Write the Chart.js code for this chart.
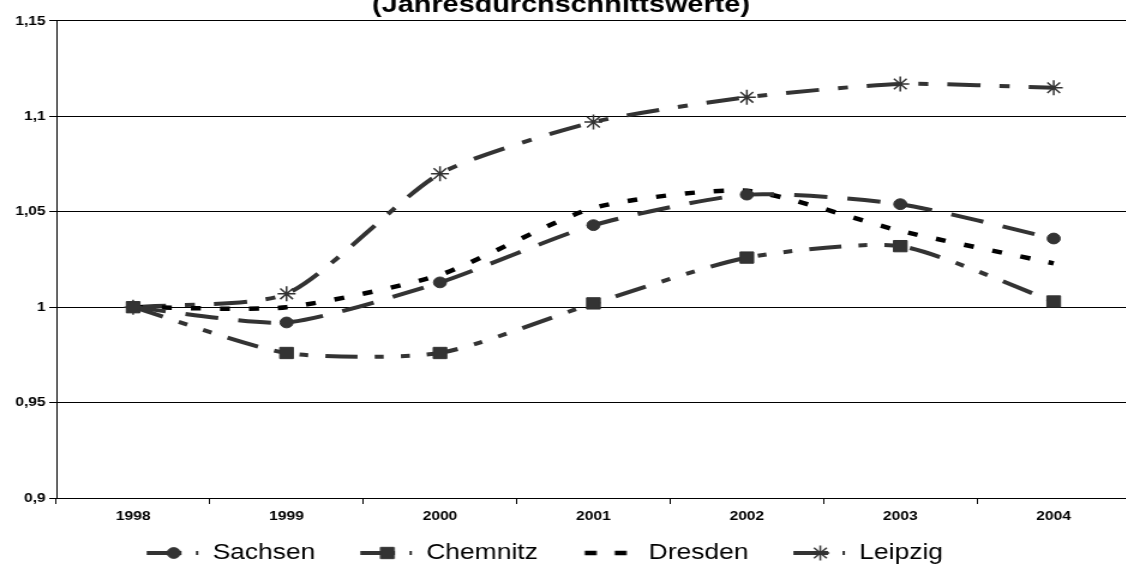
<!DOCTYPE html>
<html>
<head>
<meta charset="utf-8">
<script src="https://cdn.jsdelivr.net/npm/chart.js@4.4.1/dist/chart.umd.min.js"></script>
<style>
  html, body { margin: 0; padding: 0; background: #fff; overflow: hidden; }
  body { width: 1126px; height: 567px; position: relative; }
  /* the source picture is stretched horizontally, so the chart is drawn narrow and widened */
  #wrap { position: absolute; left: 0; top: -9px; width: 951px; height: 583px; transform: scaleX(1.2); transform-origin: 0 0; }
</style>
</head>
<body>
<div id="wrap"><canvas id="chart" width="951" height="583"></canvas></div>
<script>
// Data
const years = ['1998', '1999', '2000', '2001', '2002', '2003', '2004'];
const sachsen = [1.000, 0.992, 1.013, 1.043, 1.059, 1.054, 1.036];
const chemnitz = [1.000, 0.976, 0.976, 1.002, 1.026, 1.032, 1.003];
const dresden = [1.000, 1.000, 1.017, 1.052, 1.061, 1.040, 1.023];
const leipzig = [1.000, 1.007, 1.070, 1.097, 1.110, 1.117, 1.115];
const seriesNames = ['Sachsen', 'Chemnitz', 'Dresden', 'Leipzig'];
const yTicks = [0.9, 0.95, 1, 1.05, 1.1, 1.15];
const yTickLabels = ['0,9', '0,95', '1', '1,05', '1,1', '1,15'];
const titleText = '(Jahresdurchschnittswerte)';

const GREY = '#333333';
const FONT = '"Liberation Sans", Arial, sans-serif';
const TENSION = 0.22;

// legend symbol: transparent lead (gap between items), line sample, marker
const SYMBOL_GAP = 25;
const SYMBOL_W = 69;

function legendSymbol(style, dash, color, width, radius) {
  const c = document.createElement('canvas');
  c.width = SYMBOL_W;
  c.height = 24;
  const g = c.getContext('2d');
  g.strokeStyle = color;
  g.fillStyle = color;
  g.lineWidth = width;
  g.lineCap = 'butt';
  g.setLineDash(dash);
  g.beginPath();
  if (style) {
    g.moveTo(SYMBOL_GAP, 12);
    g.lineTo(SYMBOL_GAP + 43, 12);
  } else {
    g.moveTo(SYMBOL_GAP + 1.7, 12);
    g.lineTo(SYMBOL_GAP + 38, 12);
  }
  g.stroke();
  g.setLineDash([]);
  if (style) {
    g.lineWidth = style === 'star' ? 1.5 : 1;
    Chart.helpers.drawPoint(g, { pointStyle: style, radius: radius, rotation: 0, borderWidth: g.lineWidth }, SYMBOL_GAP + 22.5, 12);
  }
  return c;
}

const symbols = [
  legendSymbol('circle', [29, 12], GREY, 4, 5.4),
  legendSymbol('rect', [29, 12], GREY, 4, 8),
  legendSymbol(null, [10, 15], '#000000', 4.5, 0),
  legendSymbol('star', [29, 12], GREY, 4, 7.5)
];

// nudge title and legend to where they sit in the source
const shiftBlocks = {
  id: 'shiftBlocks',
  afterLayout(chart) {
    chart.titleBlock.left -= 8;
    chart.titleBlock.right -= 8;
    chart.legend.left -= 34;
    chart.legend.right -= 34;
  }
};

const ctx = document.getElementById('chart').getContext('2d');

new Chart(ctx, {
  type: 'line',
  data: {
    labels: years,
    datasets: [
      {
        label: seriesNames[0],
        data: sachsen,
        borderColor: GREY,
        backgroundColor: GREY,
        borderWidth: 4,
        borderDash: [27.5, 16.7],
        borderCapStyle: 'butt',
        tension: TENSION,
        pointStyle: 'circle',
        pointRadius: 5.4,
        pointBackgroundColor: GREY,
        pointBorderColor: GREY,
        pointBorderWidth: 1
      },
      {
        label: seriesNames[1],
        data: chemnitz,
        borderColor: GREY,
        backgroundColor: GREY,
        borderWidth: 4,
        borderDash: [26.7, 14.2, 7.5, 14.2, 7.5, 14.2],
        borderCapStyle: 'butt',
        tension: TENSION,
        pointStyle: 'rect',
        pointRadius: 8,
        pointBackgroundColor: GREY,
        pointBorderColor: GREY,
        pointBorderWidth: 1
      },
      {
        label: seriesNames[2],
        data: dresden,
        borderColor: '#000000',
        backgroundColor: '#000000',
        borderWidth: 4.5,
        borderDash: [8.3, 15.8],
        borderCapStyle: 'butt',
        tension: TENSION,
        pointRadius: 0
      },
      {
        label: seriesNames[3],
        data: leipzig,
        borderColor: GREY,
        backgroundColor: GREY,
        borderWidth: 4,
        borderDash: [27.5, 15.8, 8.3, 15.8],
        borderCapStyle: 'butt',
        tension: TENSION,
        pointStyle: 'star',
        pointRadius: 7.5,
        pointBackgroundColor: GREY,
        pointBorderColor: GREY,
        pointBorderWidth: 1.5
      }
    ]
  },
  options: {
    responsive: false,
    animation: false,
    events: [],
    layout: { padding: 0 },
    plugins: {
      title: {
        display: true,
        text: titleText,
        color: '#000',
        font: { family: FONT, size: 24, weight: 'bold' },
        padding: { top: 0, bottom: 1.2 }
      },
      legend: {
        position: 'bottom',
        labels: {
          usePointStyle: true,
          pointStyleWidth: SYMBOL_W,
          padding: 12.4,
          color: '#000',
          font: { family: FONT, size: 22 },
          generateLabels: (chart) => chart.data.datasets.map((ds, i) => ({
            text: ds.label,
            pointStyle: symbols[i],
            fillStyle: 'transparent',
            strokeStyle: 'transparent',
            lineWidth: 0,
            hidden: false,
            datasetIndex: i,
            fontColor: '#000'
          }))
        }
      },
      tooltip: { enabled: false }
    },
    scales: {
      x: {
        offset: true,
        grid: {
          offset: true,
          drawOnChartArea: false,
          drawTicks: true,
          tickLength: 6,
          color: '#000'
        },
        border: { display: true, color: '#000', width: 1 },
        ticks: {
          color: '#000',
          padding: 5,
          maxRotation: 0,
          font: { family: FONT, size: 13, weight: 'bold' }
        }
      },
      y: {
        min: 0.9,
        max: 1.15,
        afterBuildTicks: (scale) => {
          scale.ticks = yTicks.map(v => ({ value: v }));
        },
        afterFit: (scale) => {
          scale.width = 47;
        },
        grid: {
          color: '#000',
          lineWidth: 1,
          drawTicks: true,
          tickLength: 6
        },
        border: { display: true, color: '#000', width: 1 },
        ticks: {
          color: '#000',
          padding: 3,
          font: { family: FONT, size: 13, weight: 'bold' },
          callback: (value, index) => yTickLabels[index]
        }
      }
    }
  },
  plugins: [shiftBlocks]
});
</script>
</body>
</html>
